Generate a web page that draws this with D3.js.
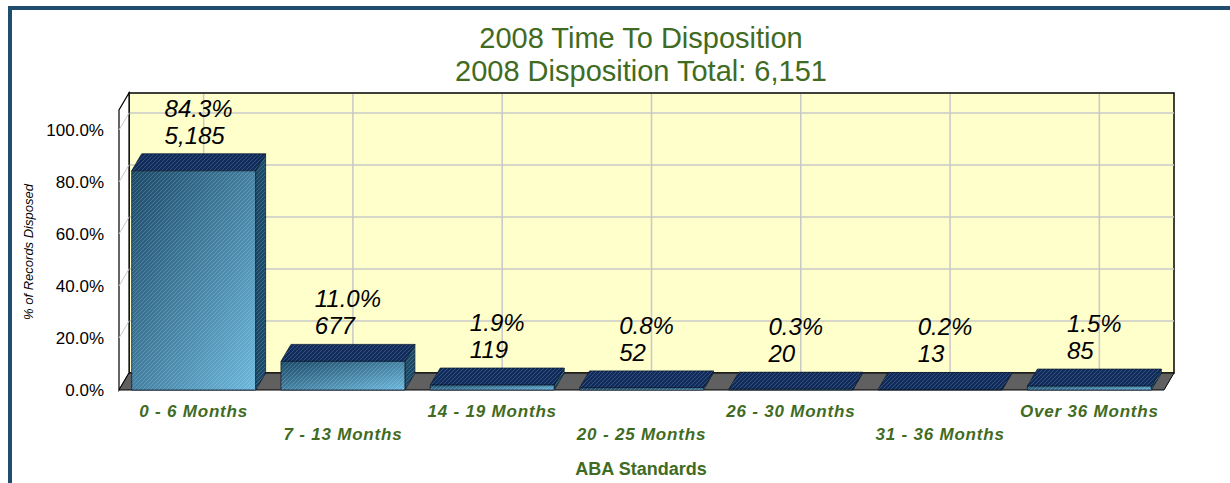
<!DOCTYPE html>
<html><head><meta http-equiv="Content-Type" content="text/html; charset=utf-8">
<script src="https://d3js.org/d3.v7.min.js"></script>
<style>
  body { margin: 0; background: #fff; }
  text { font-family: Arial, "Liberation Sans", sans-serif; }
</style>
</head>
<body>
<div class="chart"></div>
<script type="text/javascript">

var categories = ["0 - 6 Months", "7 - 13 Months", "14 - 19 Months", "20 - 25 Months",
                  "26 - 30 Months", "31 - 36 Months", "Over 36 Months"];
var counts = [5185, 677, 119, 52, 20, 13, 85];
var percents = [84.3, 11.0, 1.9, 0.8, 0.3, 0.2, 1.5];
var yTicks = [0, 20, 40, 60, 80, 100];

var width = 1230, height = 483;
var green = "#3f6b22";
var depthX = 10, depthY = -17;

var svg = d3.select("div.chart")
  .append("svg")
  .attr("width", width)
  .attr("height", height);

var defs = svg.append("defs");

var grad = defs.append("linearGradient")
  .attr("id", "frontGrad")
  .attr("x1", 0).attr("y1", 0).attr("x2", 1).attr("y2", 1);
grad.append("stop").attr("offset", "0%").attr("stop-color", "#1b4968");
grad.append("stop").attr("offset", "100%").attr("stop-color", "#6cb8dc");

var hatch = defs.append("pattern")
  .attr("id", "hatch")
  .attr("patternUnits", "userSpaceOnUse")
  .attr("width", 4).attr("height", 4);
hatch.append("path")
  .attr("d", "M0,4 L4,0 M-1,1 L1,-1 M3,5 L5,3")
  .style("stroke", "#ffffff")
  .style("stroke-opacity", 0.22)
  .style("stroke-width", 0.8);

// outer frame
svg.append("rect")
  .attr("x", 10).attr("y", 8)
  .attr("width", width).attr("height", height)
  .style("fill", "none")
  .style("stroke", "#1f4d6e")
  .style("stroke-width", 4);

// scales (front plane)
var x = d3.scaleBand()
  .domain(categories)
  .range([119, 1164])
  .paddingInner(0.17)
  .paddingOuter(0.085);

var y = d3.scaleLinear()
  .domain([0, 100])
  .range([390, 130]);

var wallTop = 93;
var x0 = x.range()[0], x1 = x.range()[1];

// back wall
svg.append("rect")
  .attr("x", x0 + depthX).attr("y", wallTop)
  .attr("width", x1 - x0).attr("height", y(0) + depthY - wallTop)
  .style("fill", "#ffffcc")
  .style("stroke", "#000")
  .style("stroke-width", 1.5);

var grid = svg.append("g");
grid.selectAll("line.h")
  .data(yTicks.filter(function(d){ return d > 0; }))
  .enter().append("line")
  .attr("x1", x0 + depthX).attr("x2", x1 + depthX)
  .attr("y1", function(d){ return y(d) + depthY; })
  .attr("y2", function(d){ return y(d) + depthY; })
  .style("stroke", "#c8c8c8").style("stroke-width", 1.5);

grid.selectAll("line.v")
  .data(categories)
  .enter().append("line")
  .attr("x1", function(d){ return x(d) + x.bandwidth() / 2 + depthX; })
  .attr("x2", function(d){ return x(d) + x.bandwidth() / 2 + depthX; })
  .attr("y1", wallTop + 1)
  .attr("y2", y(0) + depthY)
  .style("stroke", "#c8c8c8").style("stroke-width", 1.5);

// left wall
svg.append("path")
  .attr("d", "M" + x0 + "," + y(0) + " L" + x0 + "," + (wallTop - depthY) +
             " L" + (x0 + depthX) + "," + wallTop +
             " L" + (x0 + depthX) + "," + (y(0) + depthY) + " Z")
  .style("fill", "#fff")
  .style("stroke", "#000")
  .style("stroke-width", 1.2);

svg.append("g").selectAll("line")
  .data(yTicks.filter(function(d){ return d > 0; }))
  .enter().append("line")
  .attr("x1", x0).attr("y1", function(d){ return y(d); })
  .attr("x2", x0 + depthX).attr("y2", function(d){ return y(d) + depthY; })
  .style("stroke", "#c8c8c8").style("stroke-width", 1);

// floor
svg.append("path")
  .attr("d", "M" + x0 + "," + y(0) + " L" + x1 + "," + y(0) +
             " L" + (x1 + depthX) + "," + (y(0) + depthY) +
             " L" + (x0 + depthX) + "," + (y(0) + depthY) + " Z")
  .style("fill", "#606060")
  .style("stroke", "#000")
  .style("stroke-width", 1);

// bars
var bars = svg.append("g")
  .selectAll("g")
  .data(percents)
  .enter().append("g");

function facePath(pts) {
  return "M" + pts.map(function(p){ return p[0] + "," + p[1]; }).join(" L") + " Z";
}

bars.each(function(d, i) {
  var g = d3.select(this);
  var bx = x(categories[i]), bw = x.bandwidth();
  var top = y(d), base = y(0);

  var front = [[bx, top], [bx + bw, top], [bx + bw, base], [bx, base]];
  var topFace = [[bx, top], [bx + depthX, top + depthY], [bx + bw + depthX, top + depthY], [bx + bw, top]];
  var side = [[bx + bw, top], [bx + bw + depthX, top + depthY], [bx + bw + depthX, base + depthY], [bx + bw, base]];

  g.append("path").attr("d", facePath(side))
    .style("fill", "#1b4a68").style("stroke", "#0a1a30").style("stroke-width", 0.8);
  g.append("path").attr("d", facePath(side)).style("fill", "url(#hatch)");

  g.append("path").attr("d", facePath(topFace))
    .style("fill", "#0f2c5c").style("stroke", "#0a1a30").style("stroke-width", 0.8);
  g.append("path").attr("d", facePath(topFace)).style("fill", "url(#hatch)");

  g.append("path").attr("d", facePath(front))
    .style("fill", "url(#frontGrad)").style("stroke", "#0a1a30").style("stroke-width", 0.8);
  g.append("path").attr("d", facePath(front)).style("fill", "url(#hatch)");
});

// value labels
var labels = svg.append("g");
percents.forEach(function(d, i) {
  var cx = x(categories[i]) + x.bandwidth() / 2 + depthX / 2;
  var base2 = y(d) + depthY - 10;
  var t1 = labels.append("text")
    .attr("y", base2 - 27)
    .style("font-size", "24px").style("font-style", "italic").style("fill", "#000")
    .text(d.toFixed(1) + "%");
  var t2 = labels.append("text")
    .attr("y", base2)
    .style("font-size", "24px").style("font-style", "italic").style("fill", "#000")
    .text(d3.format(",")(counts[i]));
  var w = Math.max(t1.node().getComputedTextLength(), t2.node().getComputedTextLength());
  t1.attr("x", cx - w / 2);
  t2.attr("x", cx - w / 2);
});

// y tick labels
svg.append("g").selectAll("text")
  .data(yTicks)
  .enter().append("text")
  .attr("x", 104)
  .attr("y", function(d){ return y(d) + 6; })
  .attr("text-anchor", "end")
  .style("font-size", "17px")
  .style("fill", "#000")
  .text(function(d){ return d.toFixed(1) + "%"; });

// y axis title
svg.append("text")
  .attr("transform", "translate(33,252) rotate(-90)")
  .attr("text-anchor", "middle")
  .style("font-size", "13px")
  .style("font-style", "italic")
  .style("fill", "#000")
  .text("% of Records Disposed");

// x category labels, staggered
svg.append("g").selectAll("text")
  .data(categories)
  .enter().append("text")
  .attr("x", function(d){ return x(d) + x.bandwidth() / 2; })
  .attr("y", function(d, i){ return i % 2 === 0 ? 417 : 440; })
  .attr("text-anchor", "middle")
  .style("font-size", "17px")
  .style("font-weight", "bold")
  .style("font-style", "italic")
  .style("letter-spacing", "0.8px")
  .style("fill", green)
  .text(function(d){ return d; });

svg.append("text")
  .attr("x", 641).attr("y", 475)
  .attr("text-anchor", "middle")
  .style("font-size", "18px")
  .style("font-weight", "bold")
  .style("fill", green)
  .text("ABA Standards");

// titles
svg.append("text")
  .attr("x", 641).attr("y", 48)
  .attr("text-anchor", "middle")
  .style("font-size", "29px")
  .style("fill", green)
  .text("2008 Time To Disposition");

svg.append("text")
  .attr("x", 641).attr("y", 81)
  .attr("text-anchor", "middle")
  .style("font-size", "29px")
  .style("fill", green)
  .text("2008 Disposition Total: 6,151");

</script>
</body></html>
